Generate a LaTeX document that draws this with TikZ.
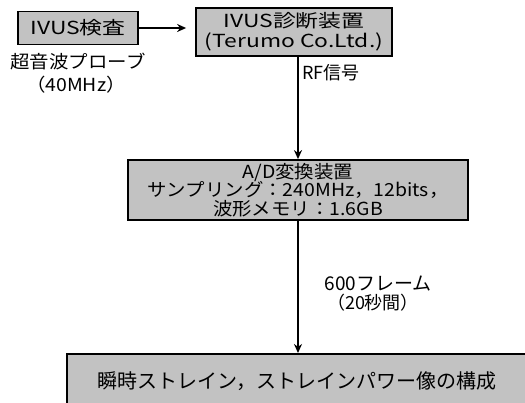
\documentclass[tikz,border=0pt]{standalone}
\usepackage{fontspec}
\setmainfont{Noto Sans CJK JP}
\newfontfamily\widefont[FakeStretch=1.27]{Noto Sans CJK JP}
\newfontfamily\midfont[FakeStretch=1.08]{Noto Sans CJK JP}
\usetikzlibrary{arrows.meta}
\tikzset{
  box/.style={draw=black, line width=1.8pt, fill=black!24, inner sep=0pt, align=center, font=\widefont\fontsize{18}{21}\selectfont},
  lbl/.style={inner sep=0pt, align=center, font=\fontsize{18}{20}\selectfont},
  arr/.style={line width=1.5pt, -{Stealth[length=9pt,width=8pt]}},
}
\begin{document}
\begin{tikzpicture}[x=1pt,y=-1pt]
\useasboundingbox (0,0) rectangle (525,402);
\clip (0,0) rectangle (525,402);
\node[box, minimum width=120pt, minimum height=33pt] (ivus) at (78,28) {IVUS検査};
\node[box, minimum width=196pt, minimum height=48pt, font=\widefont\fontsize{18}{20}\selectfont] (diag) at (294,32) {IVUS診断装置\\(Terumo Co.Ltd.)};
\node[lbl, font=\midfont\fontsize{18}{20}\selectfont] (probe) at (78,62) {超音波プローブ};
\node[lbl, font=\midfont\fontsize{18}{20}\selectfont] (mhz) at (76,85) {（40MHz）};
\node[box, minimum width=340pt, minimum height=60pt, font=\midfont\fontsize{18}{18.5}\selectfont] (ad) at (298,190) {A/D変換装置\\サンプリング：240MHz，12bits，\\波形メモリ：1.6GB};
\node[lbl, anchor=west] (rf) at (302,73) {RF信号};
\node[lbl, font=\fontsize{19}{21}\selectfont] (frm) at (378,284) {600フレーム};
\node[lbl] (sec) at (373,303) {（20秒間）};
\node[box, minimum width=460pt, minimum height=58pt, font=\fontsize{20}{24}\selectfont, anchor=north] (img) at (297,353) {\raisebox{6pt}{瞬時ストレイン，ストレインパワー像の構成}};
\draw[arr, shorten >=9pt] (ivus.east) -- (ivus.east -| diag.west);
\draw[arr] (diag.south -| ad.north) -- (ad.north);
\draw[arr] (ad.south) -- (ad.south |- img.north);
\end{tikzpicture}
\end{document}
